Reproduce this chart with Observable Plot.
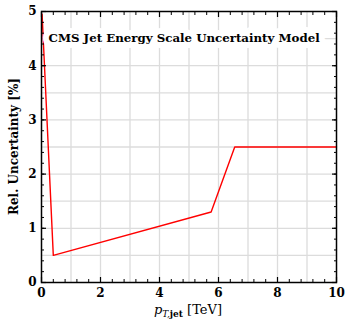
<!DOCTYPE html>
<html>
<head>
<meta charset="utf-8">
<script src="https://cdn.jsdelivr.net/npm/d3@7"></script>
<script src="https://cdn.jsdelivr.net/npm/@observablehq/plot@0.6"></script>
<style>
  html, body { margin: 0; padding: 0; background: #fff; }
  svg { font-family: "DejaVu Serif", serif; }
</style>
</head>
<body>
<div id="chart"></div>
<script>
// Data
const ptTeV = [0.02, 0.4, 5.75, 6.55, 10];
const uncertainty = [4.95, 0.5, 1.3, 2.5, 2.5];
const title = "CMS Jet Energy Scale Uncertainty Model";
const yLabel = "Rel. Uncertainty [%]";
const xMajorTicks = [0, 2, 4, 6, 8, 10];
const xMinorTicks = d3.range(0, 10.001, 0.4);
const xGrid = [1, 2, 3, 4, 5, 6, 7, 8, 9];
const yMajorTicks = [0, 1, 2, 3, 4, 5];
const yMinorTicks = d3.range(0, 5.001, 0.2);
const yGrid = [0.5, 1, 1.5, 2, 2.5, 3, 3.5, 4, 4.5];

const data = ptTeV.map((x, i) => ({x, y: uncertainty[i]}));

const chart = Plot.plot({
  width: 345,
  height: 324,
  marginLeft: 41,
  marginRight: 9,
  marginTop: 11,
  marginBottom: 42,
  style: {fontFamily: "DejaVu Serif", fontSize: "12px", fontWeight: "bold"},
  x: {domain: [0, 10]},
  y: {domain: [0, 5]},
  marks: [
    Plot.gridX(xGrid, {stroke: "#dcdcdc", strokeOpacity: 1, strokeWidth: 1.3}),
    Plot.gridY(yGrid, {stroke: "#dcdcdc", strokeOpacity: 1, strokeWidth: 1.3}),
    Plot.line(data, {x: "x", y: "y", stroke: "#ff0000", strokeWidth: 1.4}),
    Plot.text([title], {frameAnchor: "top-left", dx: 7, dy: 22, text: d => d, textAnchor: "start",
      fontSize: 11.8, fontWeight: "bold", fill: "black", stroke: "white", strokeWidth: 12}),
    // inward ticks on all sides
    Plot.axisX(xMajorTicks, {anchor: "bottom", tickSize: -5, text: null, strokeWidth: 1.2, label: null}),
    Plot.axisX(xMinorTicks, {anchor: "bottom", tickSize: -3, text: null, strokeWidth: 1, label: null}),
    Plot.axisX(xMajorTicks, {anchor: "top", tickSize: -5, text: null, strokeWidth: 1.2, label: null}),
    Plot.axisX(xMinorTicks, {anchor: "top", tickSize: -3, text: null, strokeWidth: 1, label: null}),
    Plot.axisY(yMajorTicks, {anchor: "left", tickSize: -5, text: null, strokeWidth: 1.2, label: null}),
    Plot.axisY(yMinorTicks, {anchor: "left", tickSize: -3, text: null, strokeWidth: 1, label: null}),
    Plot.axisY(yMajorTicks, {anchor: "right", tickSize: -5, text: null, strokeWidth: 1.2, label: null}),
    Plot.axisY(yMinorTicks, {anchor: "right", tickSize: -3, text: null, strokeWidth: 1, label: null}),
    // tick labels
    Plot.axisX(xMajorTicks, {anchor: "bottom", tickSize: 0, tickPadding: 6, label: null,
      tickFormat: d3.format("d"), fontSize: 12, fontWeight: "bold"}),
    Plot.axisY(yMajorTicks, {anchor: "left", tickSize: 0, tickPadding: 5, label: null,
      tickFormat: d3.format("d"), fontSize: 12, fontWeight: "bold"}),
    Plot.frame({stroke: "black", strokeWidth: 1.5})
  ]
});

document.getElementById("chart").appendChild(chart);

const svg = d3.select(chart);
// y-axis label
svg.append("text")
  .attr("transform", "translate(18,146.5) rotate(-90)")
  .attr("text-anchor", "middle")
  .attr("font-family", "DejaVu Serif")
  .attr("font-size", 12)
  .attr("font-weight", "bold")
  .attr("fill", "black")
  .text(yLabel);

// x-axis label: p_{T,jet} [TeV]
const xl = svg.append("text")
  .attr("x", 188)
  .attr("y", 314)
  .attr("text-anchor", "middle")
  .attr("font-family", "DejaVu Serif")
  .attr("font-size", 13)
  .attr("font-weight", "normal")
  .attr("fill", "black");
xl.append("tspan").attr("font-style", "italic").text("p");
xl.append("tspan").attr("font-size", 9).attr("dy", 3).attr("font-style", "italic").text("T,");
xl.append("tspan").attr("font-size", 9).attr("font-weight", "bold").text("jet");
xl.append("tspan").attr("dy", -3).text(" [TeV]");
</script>
</body>
</html>
